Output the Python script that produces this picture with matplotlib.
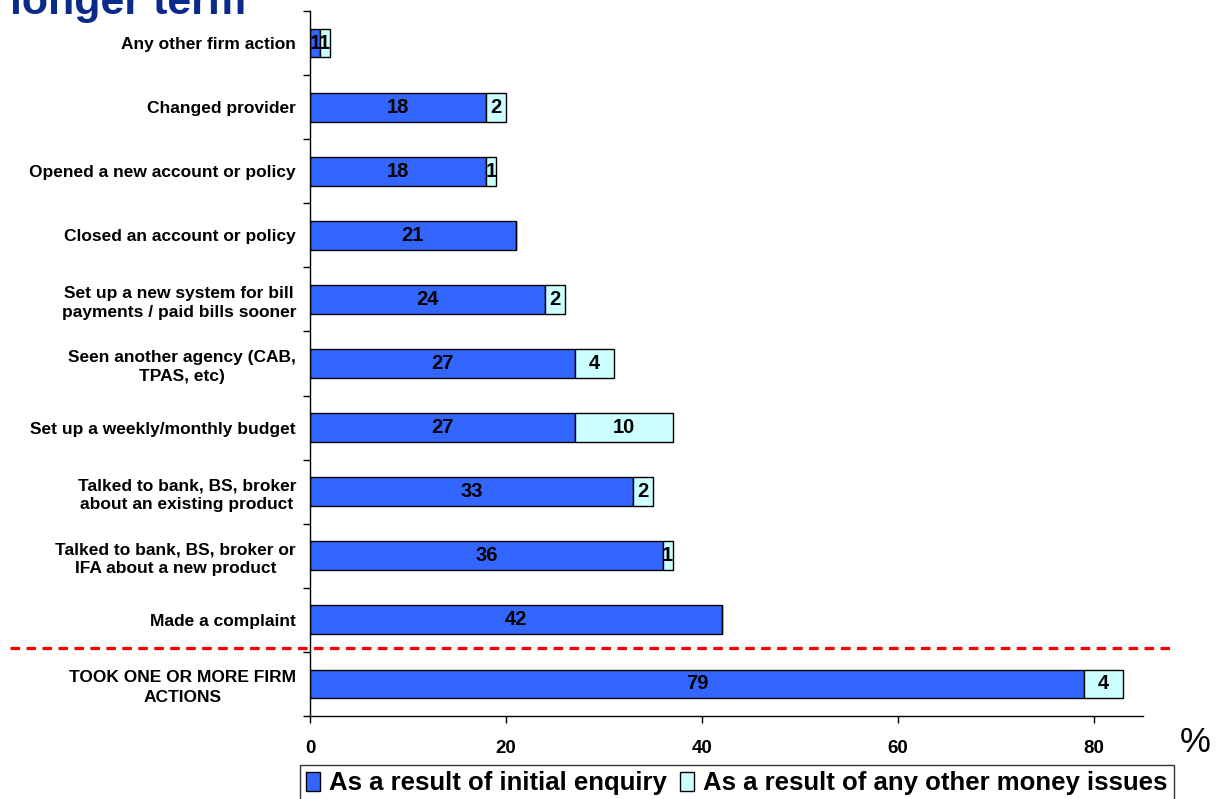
import numpy as np
import matplotlib
matplotlib.use("Agg")
import matplotlib.pyplot as plt

plt.rcParams['font.family'] = ['Liberation Sans', 'DejaVu Sans']

# data, top to bottom as in the chart
actions = ['Any other firm action',
           'Changed provider',
           'Opened a new account or policy',
           'Closed an account or policy',
           'Set up a new system for bill\npayments / paid bills sooner',
           'Seen another agency (CAB,\nTPAS, etc)',
           'Set up a weekly/monthly budget',
           'Talked to bank, BS, broker\nabout an existing product',
           'Talked to bank, BS, broker or\nIFA about a new product',
           'Made a complaint',
           'TOOK ONE OR MORE FIRM\nACTIONS']
initial_enquiry = [1, 18, 18, 21, 24, 27, 27, 33, 36, 42, 79]
other_issues = [1, 2, 1, 0, 2, 4, 10, 2, 1, 0, 4]
series_names = ['As a result of initial enquiry', 'As a result of any other money issues']
x_ticks = [0, 20, 40, 60, 80]

blue = '#3366FF'
cyan = '#CCFFFF'

fig = plt.figure(figsize=(12.17, 7.99), dpi=100)
ax = fig.add_axes([310/1217, 1-716/799, 833/1217, 705/799])

y = np.arange(len(actions))
b1 = ax.barh(y, initial_enquiry, height=0.45, color=blue, edgecolor='black', linewidth=1,
             label=series_names[0])
b2 = ax.barh(y, other_issues, left=initial_enquiry, height=0.45, color=cyan, edgecolor='black',
             linewidth=1, label=series_names[1])

# value labels in the middle of each segment
for i in range(len(actions)):
    a, o = initial_enquiry[i], other_issues[i]
    if a > 0:
        ax.text(a / 2, i, str(a), ha='center', va='center', fontsize=14.5, fontweight='bold')
    if o > 0:
        ax.text(a + o / 2, i, str(o), ha='center', va='center', fontsize=14.5, fontweight='bold')

ax.set_ylim(len(actions) - 0.5, -0.5)
ax.set_xlim(0, 85)

# ticks between categories, labels at category centres
ax.set_yticks(np.arange(-0.5, len(actions), 1))
ax.set_yticklabels([])
ax.set_yticks(y, minor=True)
ax.set_yticklabels(actions, minor=True, fontsize=12.5, fontweight='bold',
                   multialignment='center', linespacing=1.35)
ax.tick_params(axis='y', which='major', length=5, width=1, direction='out')
ax.tick_params(axis='y', which='minor', length=0, pad=10)

ax.set_xticks(x_ticks)
ax.set_xticklabels([str(t) for t in x_ticks], fontsize=13.5, fontweight='bold')
ax.tick_params(axis='x', length=5, width=1, direction='out', pad=12)

for s in ['top', 'right']:
    ax.spines[s].set_visible(False)
for s in ['left', 'bottom']:
    ax.spines[s].set_linewidth(1)

# red dashed divider
ax.axhline(9.44, xmin=-0.36, xmax=1.032, color='#FF0000', linestyle=(0, (3, 2)),
           linewidth=2.3, clip_on=False)

fig.text(1195/1217, 1-742/799, '%', ha='center', va='center', fontsize=25)

fig.text(10/1217, 1-14/799, 'longer term', ha='left', va='baseline', fontsize=31,
         fontweight='bold', color='#0A2A8C')

leg = fig.legend(handles=[b1, b2], labels=series_names, loc='upper center',
                 bbox_to_anchor=(737/1217, 1-765/799), ncol=2, frameon=True, fancybox=False,
                 prop={'size': 18.5, 'weight': 'bold'}, handlelength=0.55, handleheight=0.8,
                 handletextpad=0.35, columnspacing=0.5, borderpad=0.25, borderaxespad=0)
leg.get_frame().set_edgecolor('black')
leg.get_frame().set_linewidth(1)

fig.savefig('out.png', dpi=100)
